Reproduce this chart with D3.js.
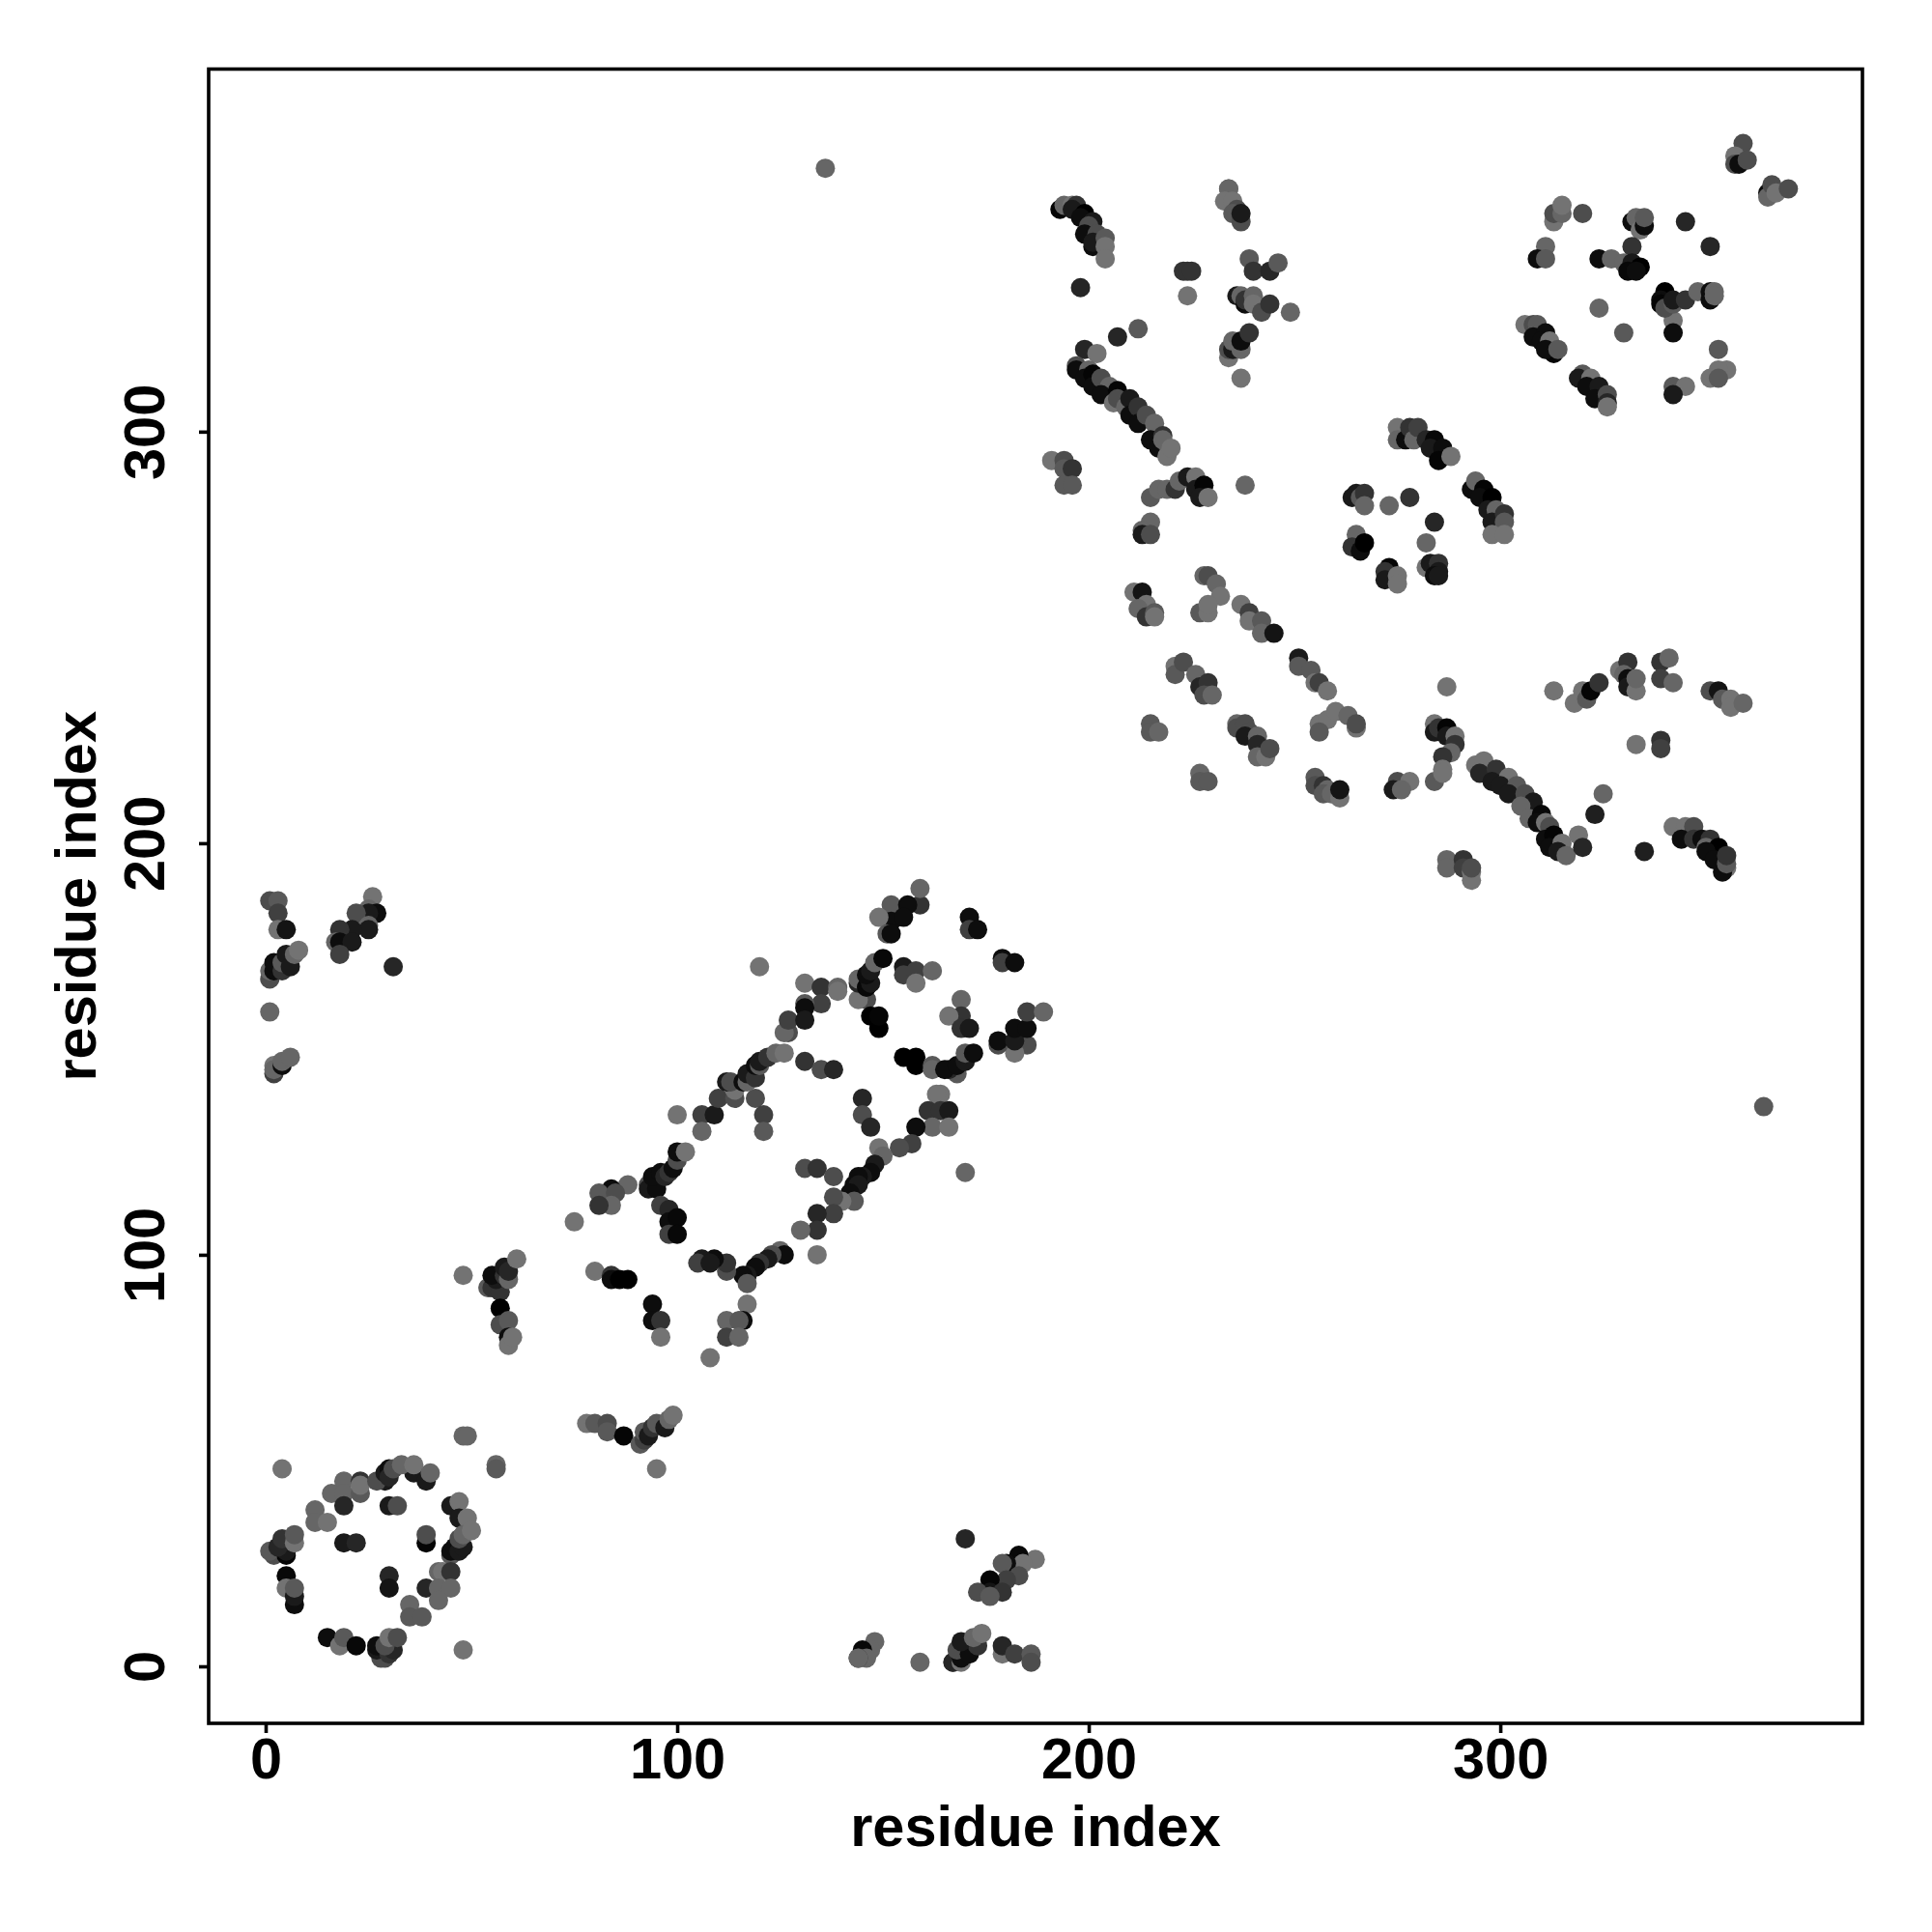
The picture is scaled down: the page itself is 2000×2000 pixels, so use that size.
<!DOCTYPE html>
<html><head><meta charset="utf-8">
<script src="https://cdn.jsdelivr.net/npm/d3@7/dist/d3.min.js"></script>
<style>html,body{margin:0;padding:0;background:#fff}svg{display:block}</style>
</head><body><div id="chart"></div>
<script>
const xTicks=[0,100,200,300], yTicks=[0,100,200,300];
const xLabel="residue index", yLabel="residue index";
// each point: [residue x, residue y, grey percent]
const ringLow=[[4,48,45],[56,49,40],[56,48,35],[48,56,40],[49,56,40],[19,45,40],[23,45,20],[16,42,40],[19,42,40],[23,42,35],[23,44,45],[19,39,15],[30,39,10],[32,39,30],
[36,47,10],[39,45,10],[29,45,10],[27,45,30],[29,47,10],[30,48,5],[30,46,15],[31,48,30],[33,49,40],[36,49,45],[40,47,40],
[12,38,40],[12,35,40],[15,35,45],[2,27,30],[1,28,35],[5,27,2],[5,28,10],[3,29,15],[4,31,20],[7,30,45],[7,32,35],[19,30,10],[22,30,15],[39,30,2],[39,32,30],
[5,22,3],[5,19,45],[7,15,5],[7,17,10],[7,19,35],[30,22,15],[30,19,8],
[45,39,10],[47,40,45],[47,36,10],[49,36,45],[45,27,35],[45,28,5],[46,29,5],[47,28,10],[48,29,10],[47,31,30],[48,32,40],[50,33,45],
[42,23,40],[43,23,45],[45,23,20],[39,19,15],[42,19,40],[45,19,40],[42,16,40],[35,15,40],[35,12,35],[38,12,35],
[15,7,5],[18,5,45],[19,7,35],[22,5,3],[28,2,30],[29,2,30],[27,4,10],[27,5,5],[30,3,20],[31,4,15],[29,5,30],[30,7,45],[32,7,30],[48,4,45]];
const armLow=[[48,95,45],[54,92,35],[55,92,20],[57,91,20],[56,94,10],[55,95,5],[58,95,20],[59,94,40],[58,97,10],[59,96,15],[61,99,45],
[57,87,0],[57,83,30],[59,84,35],[59,80,5],[59,78,45],[60,80,45],
[78,59,45],[80,59,35],[83,59,30],[83,57,35],[87,56,2],[91,54,35],[92,55,25],[92,57,35],[93,56,10],[95,48,45],[94,58,20],[95,59,35],[97,58,10],[98,60,40],[99,61,45]];
const bandUpper=[[75,108,45],[88,117,40],[84,116,5],[81,115,35],[85,115,30],[84,112,40],[81,112,20],
[93,117,30],[93,116,10],[95,116,5],[94,119,5],[96,120,5],[97,119,15],[98,120,20],[99,121,5],[100,123,30],[100,125,5],[102,125,45],
[96,112,25],[98,111,15],[98,108,5],[100,109,3],[98,105,25],[100,105,3],
[100,134,45],[106,134,25],[106,130,40],[109,134,10],[110,138,25],[114,138,30],[114,140,45],[119,138,30],[121,134,25],[121,130,35],
[112,142,10],[113,142,30],[116,142,5],[117,142,40],[117,144,10],[119,143,20],[119,146,5],[120,146,35],[120,147,10],[122,148,20],[124,149,40],[126,149,45],
[127,154,30],[126,154,40],[127,157,25],[131,166,45],[135,165,20],[135,161,25],[139,165,40],[139,164,45],[131,161,35],[131,160,5],[131,157,10],
[120,170,45],[146,162,30],[144,162,45],[147,158,0],[149,155,0],[149,158,2],
[144,166,15],[144,167,40],[146,165,3],[147,166,10],[146,168,5],[147,169,10],[148,171,40],[150,172,3],
[155,170,10],[155,168,25],[158,169,25],[162,169,40],[158,166,45],
[152,185,35],[159,185,20],[159,189,40],[156,185,5],[152,181,5],[155,182,5],[149,182,45],[151,178,35],[152,178,5],
[171,182,5],[171,179,25],[173,179,5],[179,172,5],[179,171,25],[182,171,5],
[131,147,20],[135,145,30],[138,145,15],[145,138,15],[145,134,30],[147,131,15],[131,121,30],[134,121,20],[138,119,30],
[155,148,0],[158,148,0],[158,146,0],[162,146,35],[162,145,40],[168,144,35],[166,145,15],[165,145,5],[168,146,5],[170,147,10],[170,149,35],[172,149,5],
[169,162,40],[169,158,20],[166,158,45],[169,155,20],[171,155,10],[185,151,30],[182,149,45],[178,151,30],[178,152,5],[182,152,10],[182,155,5],[185,155,5],[185,159,25],[189,159,40]];
const bandLower=[[164,139,45],[163,139,45],[161,135,20],[164,135,20],[166,135,10],[162,131,40],[166,131,45],[158,131,5],[157,127,25],[154,126,30],
[149,126,45],[150,124,40],[148,122,10],[147,120,5],[145,119,10],[144,119,5],[143,117,5],[144,117,10],[142,115,5],[143,113,35],[140,113,45],[138,114,30],[138,110,25],[134,110,15],[134,106,20],[130,106,40],[134,100,45],
[125,101,40],[126,100,5],[123,100,30],[122,99,10],[120,98,20],[119,97,5],[117,95,10],[116,95,5],[117,93,35],
[112,96,30],[112,98,20],[109,99,5],[106,99,10],[105,98,25],[108,98,10],
[117,88,45],[112,84,40],[116,84,5],[115,84,35],[112,80,25],[115,80,40],[108,75,45],[170,120,40],
[94,88,5],[94,84,5],[96,84,20],[96,80,45],[80,96,45],[84,95,20],[84,94,5],[86,94,0],[88,94,0]];
const cornerTop=[[1,186,30],[3,186,35],[3,183,25],[3,179,45],[5,179,8],
[1,167,30],[1,169,40],[2,169,5],[2,171,5],[4,169,20],[4,171,35],[5,173,10],[6,170,10],[7,173,40],[8,174,45],
[1,159,40],[2,144,25],[2,146,45],[2,145,40],[4,146,5],[4,147,40],[6,148,40],
[26,187,45],[25,184,40],[27,183,5],[25,183,10],[22,183,30],[25,180,40],[25,179,10],[21,179,10],[18,179,20],[17,176,40],[18,176,5],[21,176,10],[18,173,25],[31,170,15]];
const cornerBottom=[[170,31,15],[187,26,45],[183,27,3],[184,25,45],[180,25,5],[179,25,35],[183,22,30],[180,21,25],[176,21,2],[176,18,8],[179,18,20],[173,18,30],[176,17,35],
[148,6,40],[147,4,40],[145,4,3],[146,2,40],[144,2,20],[144,2,40],[159,1,40],
[167,1,30],[167,1,15],[169,1,45],[169,2,5],[168,4,30],[171,3,5],[173,5,20],[169,6,10],[172,7,40],[174,8,45],
[179,3,45],[179,5,15],[182,3,25],[186,3,35],[186,1,30]];
const blockTop=[[193,354,2],[194,355,40],[196,355,45],[197,355,20],[196,354,10],[199,353,0],[198,352,5],[201,351,10],[200,350,30],[199,348,5],[202,348,30],[201,345,5],[201,346,10],[204,347,35],[204,345,45],[204,342,45],
[198,335,15],[223,339,20],[224,339,20],[225,339,20],[224,333,45],
[234,359,40],[234,359,40],[233,356,45],[235,356,45],[236,354,30],[235,353,35],[237,351,30],[237,353,10],
[239,342,35],[240,339,20],[244,339,15],[246,341,35],
[236,333,10],[237,333,40],[238,331,5],[238,332,20],[240,333,40],[240,331,45],[242,329,30],[244,331,20],[249,329,40],
[234,318,45],[234,320,30],[235,320,10],[237,320,40],[235,322,40],[237,322,5],[239,324,20],[237,313,45],
[212,325,35],[207,323,15],[199,320,15],[202,319,45],
[197,316,30],[197,315,5],[200,315,40],[199,313,5],[201,314,2],[201,311,5],[203,313,30],[205,311,40],[203,309,5],[207,310,2],[206,307,45],[207,308,30],[209,306,40],[210,308,10],[210,304,5],[212,306,20],[212,302,5],[214,304,30],[216,302,40],[215,298,5],[217,296,5],[218,299,20],[218,298,40],[219,294,45],[220,296,45],
[191,293,45],[194,293,30],[194,291,35],[196,291,20],[194,287,35],[196,287,35],
[215,284,35],[217,286,40],[219,286,40],[221,286,20],[222,288,40],[224,289,10],[226,289,45],[226,286,10],[228,287,2],[227,284,10],[229,284,45],[238,287,40],
[215,278,40],[213,276,40],[213,275,10],[215,275,30]];
const blockMid=[[211,261,45],[213,261,8],[214,258,45],[212,257,40],[214,255,20],[216,256,35],[216,255,45],
[228,265,40],[229,265,30],[231,263,40],[232,260,45],[227,256,35],[229,256,45],[229,258,45],
[237,258,45],[239,256,25],[239,254,45],[242,254,35],[242,251,40],[245,251,8],
[251,245,10],[251,243,35],[254,242,35],[255,239,45],[256,239,25],[258,237,45],
[221,243,45],[221,241,35],[223,244,30],[226,241,40],[227,238,15],[229,239,20],[228,236,30],[230,236,40],
[215,229,35],[215,227,35],[217,227,40],
[236,229,40],[236,228,30],[238,229,30],[239,227,30],[238,226,10],[241,226,40],[241,224,15],[241,221,40],[243,221,45],[244,223,30],
[256,229,45],[258,230,45],[260,232,45],[263,231,40],[265,228,45],[265,229,30],[256,227,35],
[227,217,40],[227,215,35],[229,215,35],
[255,216,35],[255,214,30],[257,214,20],[258,213,40],[257,212,35],[259,212,40],[261,211,45],[261,213,8]];
const blockRight=[[287,238,45],[313,237,45],[318,234,45],[320,237,45],[321,235,35],[322,237,2],[324,239,20],
[329,242,45],[331,244,20],[330,241,40],[331,240,5],[331,238,10],[333,237,45],[333,240,40],[339,244,20],[341,245,40],[339,240,25],[342,239,40],
[351,237,30],[353,237,8],[354,235,35],[356,235,45],[356,233,45],[359,234,40],
[333,224,45],[339,225,20],[339,223,25],
[284,229,45],[284,227,10],[285,228,20],[287,228,2],[287,226,10],[289,226,45],[289,224,20],[288,222,40],[286,221,20],[286,218,45],[284,215,35],[286,217,45],
[275,215,30],[278,215,45],[274,213,10],[276,213,40],
[294,219,45],[296,220,45],[295,217,15],[299,218,20],[298,215,10],[302,216,45],[300,214,10],[304,214,35],[302,212,10],[306,212,30],[308,210,10],[305,209,40],[307,206,40],[310,207,3],[309,205,5],[311,205,45],[312,204,30],[311,201,5],[313,202,2],[312,199,5],[315,200,45],[314,198,10],[316,197,40],
[319,202,45],[320,199,15],[325,212,40],[323,207,12],[335,198,12],
[342,204,45],[345,204,45],[347,204,30],[344,201,5],[347,201,20],[349,201,5],[351,201,20],[350,199,40],[353,199,0],[350,198,5],[352,196,5],[355,194,45],[354,193,5],[355,195,35],[355,197,20],
[287,196,40],[287,194,40],[291,196,20],[291,194,25],[293,193,45],[293,191,45],[293,194,30]];
const blockCorner=[[136,364,40],[364,136,35],[359,370,30],[357,367,45],[357,365,30],[358,365,5],[360,366,30],
[365,358,5],[365,357,40],[366,360,30],[367,358,45],[370,359,30],
[313,351,45],[313,353,30],[315,353,40],[315,355,45],[320,353,30],
[332,351,5],[333,352,40],[334,349,45],[335,350,5],[335,352,35],[345,351,15],[351,345,15],
[311,345,40],[309,342,5],[311,342,35],[324,342,5],[327,342,40],[332,345,20],[330,341,40],[332,341,10],[331,339,3],[334,340,0],[333,339,5],
[324,330,40],[330,324,35],[342,327,45],[342,324,5],
[340,334,0],[339,332,5],[339,331,2],[340,330,30],[342,331,35],[342,332,10],[345,332,20],
[348,334,40],[351,334,5],[351,332,5],[352,334,40],[352,333,40],
[353,320,35],[355,315,45],[353,315,45],[351,313,45],[353,313,35],[342,311,35],[345,311,45],[342,309,10],
[306,326,45],[308,326,30],[309,326,35],[308,323,5],[311,324,5],[310,322,5],[312,322,45],[313,319,2],[311,320,5],[314,320,35],
[320,314,35],[319,313,10],[322,313,45],[321,311,5],[324,311,10],[323,308,5],[326,309,30],[326,307,15],[326,306,45]];
const blockInner=[[275,301,45],[275,298,40],[277,298,5],[278,301,20],[279,298,40],[280,301,25],[282,298,15],[284,298,3],[283,296,10],[286,296,5],[285,293,2],[288,294,45],
[293,286,5],[294,288,40],[296,286,2],[295,284,5],[298,284,0],[297,281,10],[299,281,40],[298,278,10],[301,280,20],[301,278,35],[298,275,45],[301,275,45],
[264,284,10],[265,285,10],[266,284,35],[267,285,20],[267,282,40],
[273,282,40],[278,284,20],[284,278,15],[282,273,40],
[265,275,40],[264,272,20],[266,271,5],[267,273,0],
[273,267,2],[272,266,20],[272,264,10],[275,265,45],[275,263,45],
[282,267,45],[283,268,10],[285,268,20],[285,266,10],[284,265,5],[285,265,10]];
const allPoints=[ringLow,armLow,bandUpper,bandLower,cornerTop,cornerBottom,blockTop,blockMid,blockRight,blockCorner,blockInner].flat();

const left=216,right=1928,top_=71.5,bottom=1784;
const x=d3.scaleLinear().domain([-13.85,388]).range([left,right]);
const y=d3.scaleLinear().domain([-13.85,388.1]).range([bottom,top_]);
const font='"Liberation Sans",Arial,sans-serif';
const svg=d3.select("#chart").append("svg").attr("width",2000).attr("height",2000).attr("viewBox","0 0 2000 2000");
svg.append("rect").attr("width",2000).attr("height",2000).attr("fill","#fff");
svg.append("g").selectAll("circle").data(allPoints).join("circle")
  .attr("cx",d=>x(d[0])).attr("cy",d=>y(d[1])).attr("r",10)
  .attr("fill",d=>d3.rgb(255*d[2]/100,255*d[2]/100,255*d[2]/100));
svg.append("rect").attr("x",left).attr("y",top_).attr("width",right-left).attr("height",bottom-top_)
  .attr("fill","none").attr("stroke","#000").attr("stroke-width",3.6);
const gx=svg.append("g").attr("transform",`translate(0,${bottom})`).call(d3.axisBottom(x).tickValues(xTicks).tickSize(10).tickFormat(d3.format("d")));
gx.select(".domain").remove();
gx.selectAll("line").attr("stroke","#000").attr("stroke-width",3.6);
gx.selectAll("text").attr("y",57).attr("dy",0).attr("fill","#000").style("font",`bold 59.5px ${font}`);
const gy=svg.append("g").attr("transform",`translate(${left},0)`).call(d3.axisLeft(y).tickValues(yTicks).tickSize(10).tickFormat(d3.format("d")));
gy.select(".domain").remove();
gy.selectAll("line").attr("stroke","#000").attr("stroke-width",3.6);
gy.selectAll("text").attr("transform","rotate(-90)").attr("x",0).attr("y",-46).attr("dy",0).attr("text-anchor","middle").attr("fill","#000").style("font",`bold 59.5px ${font}`);
svg.append("text").attr("x",(left+right)/2).attr("y",1911).attr("text-anchor","middle").style("font",`bold 59.5px ${font}`).text(xLabel);
svg.append("text").attr("transform",`translate(99,${(top_+bottom)/2}) rotate(-90)`).attr("text-anchor","middle").style("font",`bold 59.5px ${font}`).text(yLabel);
</script></body></html>
